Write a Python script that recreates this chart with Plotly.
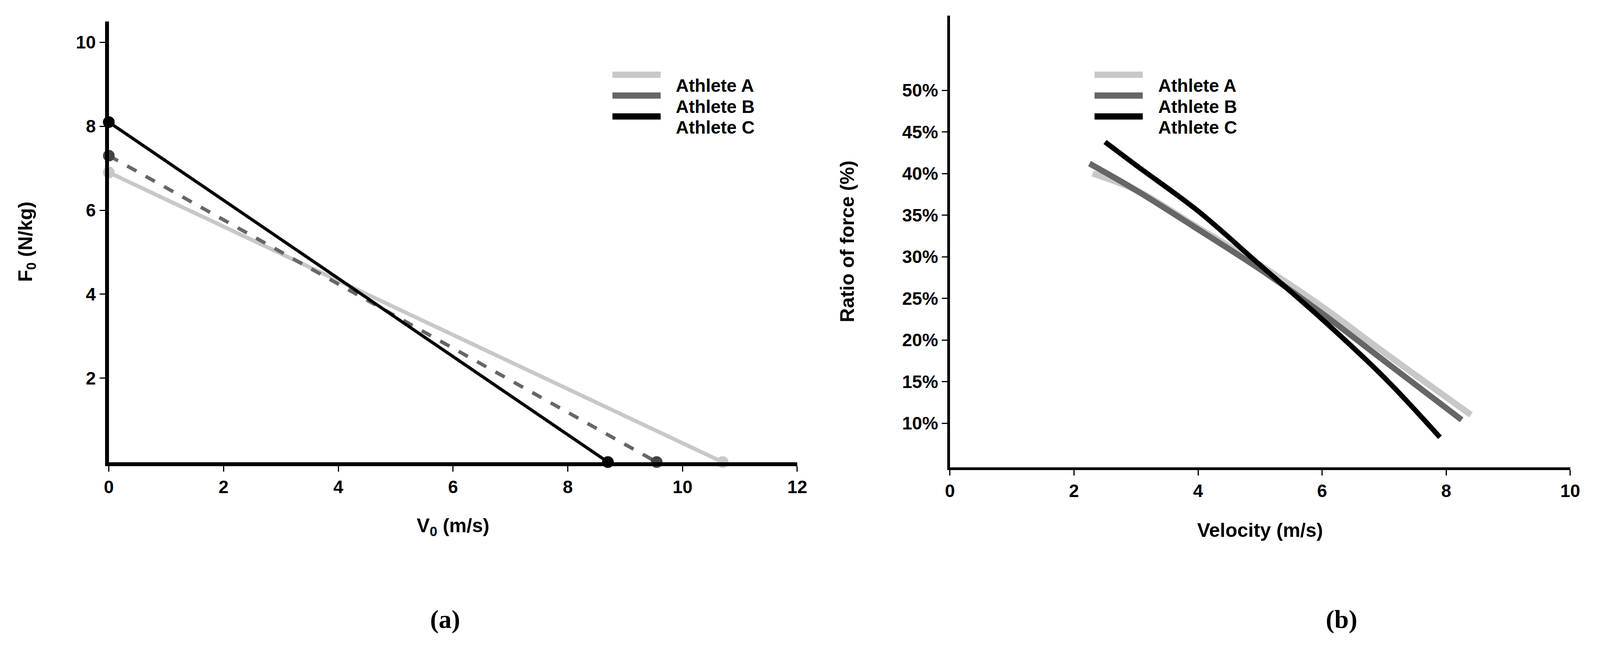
import plotly.graph_objects as go

# panel (a): force-velocity profiles (intercepts)
athletes = ['Athlete A', 'Athlete B', 'Athlete C']
v0_a = [[0, 10.7], [0, 9.55], [0, 8.7]]
f0_a = [[6.9, 0], [7.3, 0], [8.1, 0]]

# panel (b): ratio of force vs velocity
vel_a = [2.3, 3, 4, 5, 6, 7, 8.4]
rf_a = [0.40, 0.38, 0.335, 0.29, 0.24, 0.185, 0.11]
vel_b = [2.25, 3, 4, 5, 6, 7, 8.25]
rf_b = [0.412, 0.38, 0.333, 0.285, 0.232, 0.175, 0.104]
vel_c = [2.5, 3, 4, 5, 6, 7, 7.9]
rf_c = [0.438, 0.41, 0.355, 0.29, 0.225, 0.155, 0.083]

colors = ['#c8c8c8', '#666666', '#000000']
dashes = ['solid', 'dash', 'solid']
widths_a = [10, 9, 8]

FONT = 'Liberation Sans'
fig = go.Figure()

for i, name in enumerate(athletes):
    fig.add_trace(go.Scatter(x=v0_a[i], y=f0_a[i], mode='lines+markers', name=name,
                             line=dict(color=colors[i], width=widths_a[i], dash=dashes[i]),
                             marker=dict(size=30, color=colors[i] if i != 1 else '#444444'),
                             xaxis='x', yaxis='y', showlegend=False, cliponaxis=False))

for xs, ys, c, w in [(vel_a, rf_a, colors[0], 16), (vel_b, rf_b, colors[1], 15), (vel_c, rf_c, colors[2], 13)]:
    fig.add_trace(go.Scatter(x=xs, y=ys, mode='lines', line=dict(color=c, width=w, shape='spline'),
                             xaxis='x2', yaxis='y2', showlegend=False))

tfont = dict(family=FONT, size=46, color='black', weight='bold')
ttl = dict(family=FONT, size=50, color='black', weight='bold')
ax = dict(showline=True, linecolor='black', ticks='outside', tickcolor='black',
          ticklen=14, tickwidth=3, showgrid=False, zeroline=False, tickfont=tfont)

fig.update_layout(
    width=4153, height=1666, plot_bgcolor='white', paper_bgcolor='white',
    margin=dict(l=0, r=0, t=0, b=0),
    font=dict(family=FONT, color='black'),
    xaxis=dict(ax, domain=[0.0626, 0.491], range=[0, 12], dtick=2, linewidth=10,
               anchor='y', title=dict(text='V<sub>0</sub> (m/s)', font=ttl, standoff=60)),
    yaxis=dict(ax, domain=[0.295, 0.972], range=[0, 10.5], tickvals=[2, 4, 6, 8, 10], linewidth=10,
               anchor='x', title=dict(text='F<sub>0</sub> (N/kg)', font=ttl, standoff=100)),
    xaxis2=dict(ax, domain=[0.586, 0.972], range=[0, 10], dtick=2, linewidth=7,
                anchor='y2', title=dict(text='Velocity (m/s)', font=ttl, standoff=60)),
    yaxis2=dict(ax, domain=[0.287, 0.981], range=[0.047, 0.59], tickvals=[0.1, 0.15, 0.2, 0.25, 0.3, 0.35, 0.4, 0.45, 0.5],
                tickformat='.0%', linewidth=7, anchor='x2',
                title=dict(text='Ratio of force (%)', font=ttl, standoff=110)),
)

# legends drawn in paper coordinates
rows = [0.89, 0.858, 0.826]
for dx in [0.0, 0.3]:
    for i, name in enumerate(athletes):
        fig.add_shape(type='line', xref='paper', yref='paper', x0=0.376 + dx, x1=0.406 + dx,
                      y0=rows[i], y1=rows[i], line=dict(color=colors[i], width=16))
        fig.add_annotation(x=0.415 + dx, y=rows[i], xref='paper', yref='paper', xanchor='left', showarrow=False,
                           text='Athlete ' + 'ABC'[i], font=dict(family=FONT, size=46, color='black', weight='bold'))

fig.add_annotation(x=0.262, y=0.03, xref='paper', yref='paper', showarrow=False, text='<b>(a)</b>',
                   font=dict(family='Liberation Serif', size=66, color='black'))
fig.add_annotation(x=0.84, y=0.03, xref='paper', yref='paper', showarrow=False, text='<b>(b)</b>',
                   font=dict(family='Liberation Serif', size=66, color='black'))

fig.write_html('out.html')
